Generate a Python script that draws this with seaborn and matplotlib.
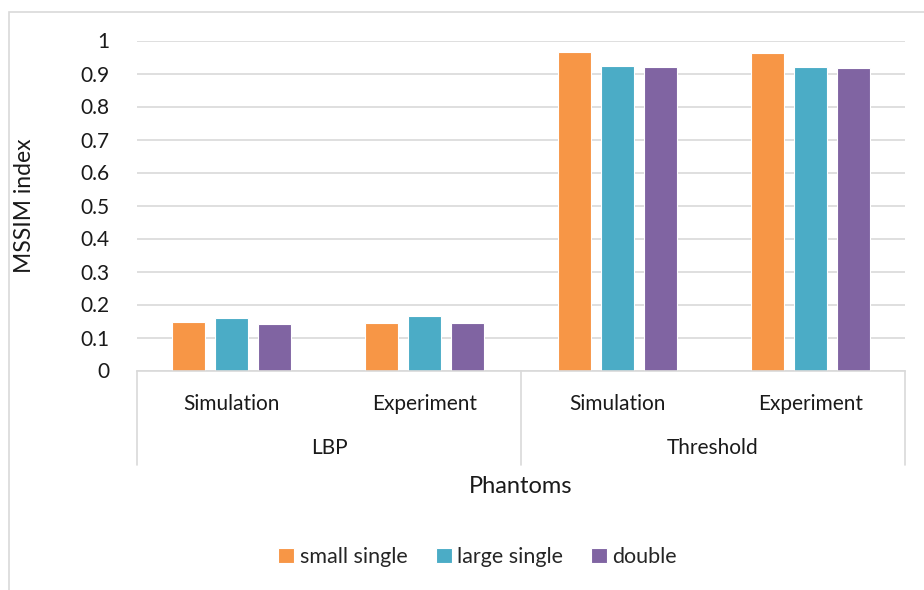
import matplotlib.pyplot as plt
from matplotlib.patches import Rectangle
import seaborn as sns
import pandas as pd

# Data
methods = ['LBP', 'LBP', 'Threshold', 'Threshold']
phantoms = ['Simulation', 'Experiment', 'Simulation', 'Experiment']
series = ['small single', 'large single', 'double']
small_single = [0.146, 0.144, 0.965, 0.963]
large_single = [0.159, 0.164, 0.924, 0.921]
double = [0.140, 0.143, 0.919, 0.916]
group_labels = ['LBP', 'Threshold']
colors = ['#F79646', '#4BACC6', '#8064A2']

rows = []
for i in range(len(phantoms)):
    for name, vals in zip(series, [small_single, large_single, double]):
        rows.append({'cat': i, 'Serie': name, 'MSSIM': vals[i]})
df = pd.DataFrame(rows)

sns.set_style('white')
plt.rcParams['font.family'] = ['Lato', 'DejaVu Sans']

fig = plt.figure(figsize=(9.24, 5.90), dpi=100)
ax = fig.add_axes([137 / 924, 1 - 370.5 / 590, 768 / 924, 330 / 590])

sns.barplot(data=df, x='cat', y='MSSIM', hue='Serie', hue_order=series,
            palette=colors, saturation=1, width=0.667, gap=0.22, ax=ax,
            edgecolor='white', linewidth=0.8, legend=True)

txt = '#1a1a1a'
ax.set_ylim(0, 1)
ax.set_yticks([i / 10 for i in range(11)])
ax.set_yticklabels(['0'] + [f'{i / 10:.1f}' for i in range(1, 10)] + ['1'])
ax.set_xticks(range(len(phantoms)))
ax.set_xticklabels(phantoms)
ax.tick_params(axis='both', length=0, labelsize=15, colors=txt)
ax.tick_params(axis='x', pad=17)
ax.tick_params(axis='y', pad=20)
ax.grid(axis='y', color='#D9D9D9', linewidth=1.2)
ax.set_axisbelow(True)
for s in ['top', 'right', 'left']:
    ax.spines[s].set_visible(False)
ax.spines['bottom'].set_color('#D9D9D9')
ax.spines['bottom'].set_linewidth(1.2)

# category tree separators and group labels
for xa in [0, 0.5, 1]:
    ax.plot([xa, xa], [0, -0.286], transform=ax.transAxes, color='#D9D9D9',
            linewidth=1.2, clip_on=False)
for k, g in enumerate(group_labels):
    ax.text(0.25 + 0.5 * k, -0.235, g, transform=ax.transAxes, ha='center',
            va='center', fontsize=15, color=txt)

ax.set_xlabel('')
ax.text(0.5, -0.353, 'Phantoms', transform=ax.transAxes, ha='center',
        va='center', fontsize=17, color=txt)
ax.set_ylabel('MSSIM index', fontsize=16.5, color=txt)
ax.yaxis.set_label_coords(-0.133, 0.5)

handles, labels = ax.get_legend_handles_labels()
ax.legend_.remove()
fig.legend(handles, labels, loc='center', bbox_to_anchor=(0.517, 1 - 557 / 590),
           ncol=3, frameon=False, fontsize=15.5, handlelength=0.75, handleheight=0.75,
           handletextpad=0.25, columnspacing=1.3)

fig.patches.append(Rectangle((9 / 924, -0.05), 1.1, 1.05 - 12 / 590,
                             transform=fig.transFigure, fill=False,
                             edgecolor='#D9D9D9', linewidth=1.2))

plt.savefig('out.png', dpi=100)
